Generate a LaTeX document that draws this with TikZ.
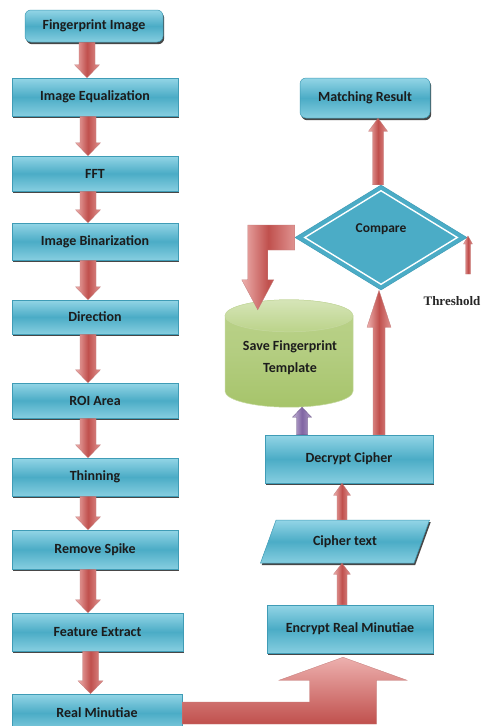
\documentclass[tikz,border=0pt]{standalone}
\usepackage{fontspec}
\setmainfont{Carlito}
\newfontfamily\serifthr{Liberation Serif}
\usetikzlibrary{shapes.geometric,shadows,calc}
\definecolor{boxtop}{HTML}{93D5E6}
\definecolor{boxmid}{HTML}{4BACC6}
\definecolor{boxbot}{HTML}{86CEE0}
\definecolor{boxline}{HTML}{3F9CB6}
\definecolor{txtc}{HTML}{1C1C1C}
\definecolor{redc}{HTML}{C0504D}
\definecolor{redl}{HTML}{EDB0AE}
\definecolor{redd}{HTML}{A8423F}
\definecolor{purc}{HTML}{8064A2}
\definecolor{purl}{HTML}{C3B4D6}
\definecolor{grnt}{HTML}{D6E5B8}
\definecolor{grnb}{HTML}{A6C46A}
\definecolor{grnm}{HTML}{BBD38A}
\definecolor{grnl}{HTML}{C6D9A0}
\tikzset{
  procbox/.style={draw=boxline, line width=0.5pt, top color=boxtop, bottom color=boxbot, middle color=boxmid,
    drop shadow={shadow xshift=1.2pt, shadow yshift=-2.2pt, fill=black!80, opacity=0.9},
    font=\fontsize{14}{16}\selectfont\bfseries, text=txtc, inner sep=0pt},
  lbltext/.style={font=\fontsize{14}{22}\selectfont\bfseries, text=txtc, inner sep=0pt, align=center},
  redarrow/.style={left color=redl, right color=redl!70!redc, middle color=redc, draw=redd!70, line width=0.3pt},
  purarrow/.style={left color=purl, right color=purl!70!purc, middle color=purc, draw=purc!80!black, line width=0.3pt},
  bigarrow/.style={top color=redl, bottom color=redc, draw=redd!70, line width=0.3pt},
}
% block arrows: [style]{start}{end}{half shaft}{half head}{head length}
\newcommand{\arrdn}[6][redarrow]{\shade[#1] let \p1=#2, \p2=#3 in
  ({\x1-#4},\y1) -- ({\x1+#4},\y1) -- ({\x1+#4},{\y2+#6}) -- ({\x1+#5},{\y2+#6}) -- (\x1,\y2)
  -- ({\x1-#5},{\y2+#6}) -- ({\x1-#4},{\y2+#6}) -- cycle;}
\newcommand{\arrup}[6][redarrow]{\shade[#1] let \p1=#2, \p2=#3 in
  ({\x1-#4},\y1) -- ({\x1+#4},\y1) -- ({\x1+#4},{\y2-#6}) -- ({\x1+#5},{\y2-#6}) -- (\x1,\y2)
  -- ({\x1-#5},{\y2-#6}) -- ({\x1-#4},{\y2-#6}) -- cycle;}
\begin{document}
\begin{tikzpicture}[x=1pt,y=-1pt]
\fill[white] (0,0) rectangle (482,726);
\useasboundingbox (0,0) rectangle (482,726);

% left column
\node[procbox, rounded corners=6pt, minimum width=138pt, minimum height=32pt] (fi) at (94,26) {Fingerprint Image};
\node[procbox, minimum width=166pt, minimum height=38pt] (eq) at (95,97) {Image Equalization};
\node[procbox, minimum width=166pt, minimum height=35pt] (fft) at (95,173.5) {FFT};
\node[procbox, minimum width=166pt, minimum height=37pt] (bin) at (95,241.5) {Image Binarization};
\node[procbox, minimum width=166pt, minimum height=34pt] (dir) at (95,317) {Direction};
\node[procbox, minimum width=166pt, minimum height=35pt] (roi) at (95,400.5) {ROI Area};
\node[procbox, minimum width=166pt, minimum height=38pt] (thin) at (95,477) {Thinning};
\node[procbox, minimum width=166pt, minimum height=39pt] (spike) at (95,549.5) {Remove Spike};
\node[procbox, minimum width=171pt, minimum height=38pt] (feat) at (97.5,632) {Feature Extract};
\node[procbox, minimum width=170pt, minimum height=38pt] (rm) at (97,713) {Real Minutiae};

% right column
\node[procbox, rounded corners=6pt, minimum width=130pt, minimum height=40pt] (mr) at (365,98) {Matching Result};
\node[diamond, aspect=1.64, minimum width=172pt, minimum height=105pt, inner sep=0pt,
  fill=boxmid, draw=boxline, line width=0.5pt, font=\fontsize{13.5}{15}\selectfont\bfseries, text=txtc]
  (cmp) at (381,237.5) {\raisebox{5pt}[0pt][0pt]{Compare}};
\draw[white, line width=1.4pt] ($(cmp.north)!6pt!(cmp.south)$) -- ($(cmp.east)!10pt!(cmp.west)$)
  -- ($(cmp.south)!6pt!(cmp.north)$) -- ($(cmp.west)!10pt!(cmp.east)$) -- cycle;

% cylinder (database)
\node[minimum width=128pt, minimum height=107pt, inner sep=0pt] (cyl) at (289,353.5) {};
\shade[top color=grnm, bottom color=grnb, middle color=grnb!85!white, draw=grnl, line width=0.5pt]
  let \p1=(cyl.north), \p2=(cyl.south) in
  ({\x1-64pt},{\y1-16pt}) -- ({\x1-64pt},{\y2+16pt}) arc[start angle=180, end angle=360, x radius=64pt, y radius=16pt]
  -- ({\x1+64pt},{\y1-16pt}) arc[start angle=0, end angle=180, x radius=64pt, y radius=16pt] -- cycle;
\shade[top color=grnt, bottom color=grnm, draw=grnl, line width=0.5pt] let \p1=(cyl.north) in
  (\x1,{\y1-16pt}) ellipse[x radius=64pt, y radius=16pt];
\node[lbltext] (cyltext) at (290,358) {Save Fingerprint\\Template};

\node[procbox, minimum width=168pt, minimum height=48pt] (dec) at (349,459) {Decrypt Cipher};
\node[procbox, trapezium, trapezium left angle=59, trapezium right angle=121, trapezium stretches,
  minimum width=170pt, minimum height=43pt] (ct) at (345,541.5) {Cipher text};
\node[procbox, minimum width=166pt, minimum height=48pt] (enc) at (350,629) {Encrypt Real Minutiae};

\node[font=\serifthr\bfseries\fontsize{13}{15}\selectfont, text=black!85, inner sep=0pt] (thr) at (452,301) {Threshold};
\coordinate (thr0) at (468,274);
\coordinate (thr1) at (468,236);

% left arrows
\arrdn{($(fi.south)+(-7,0)$)}{(eq.north)}{8pt}{12.5pt}{13pt}
\arrdn{($(eq.south)+(-7,0)$)}{(fft.north)}{8pt}{12.5pt}{13pt}
\arrdn{($(fft.south)+(-7,0)$)}{(bin.north)}{8pt}{12.5pt}{13pt}
\arrdn{($(bin.south)+(-7,0)$)}{(dir.north)}{8pt}{12.5pt}{13pt}
\arrdn{($(dir.south)+(-7,0)$)}{(roi.north)}{8pt}{12.5pt}{13pt}
\arrdn{($(roi.south)+(-7,0)$)}{(thin.north)}{8pt}{12.5pt}{13pt}
\arrdn{($(thin.south)+(-7,0)$)}{(spike.north)}{8pt}{12.5pt}{13pt}
\arrdn{($(spike.south)+(-7,0)$)}{(feat.north)}{8pt}{12.5pt}{13pt}
\arrdn{($(feat.south)+(-7,0)$)}{(rm.north)}{8pt}{12.5pt}{13pt}

% right arrows
\arrup{($(enc.north)+(-8,0)$)}{(ct.south)}{5pt}{8.5pt}{11pt}
\arrup{($(ct.north)+(-3,0)$)}{(dec.south)}{5pt}{8.5pt}{12pt}
\arrup[purarrow]{($(dec.north)+(-47,0)$)}{(cyl.south)}{5.5pt}{9.5pt}{10pt}
\arrup{($(dec.north)+(30,0)$)}{(cmp.south)}{6pt}{12pt}{37pt}
\arrup{($(cmp.north)+(-3,0)$)}{(mr.south)}{5.5pt}{9.5pt}{13pt}
\arrup{(thr0)}{(thr1)}{2.5pt}{4.5pt}{8pt}

% L arrow from compare to template
\shade[redarrow] let \p1=(cmp.west), \p2=(cyl.north) in
  (\x1,{\y1+12.5pt}) -- ({\x1-47pt},{\y1+12.5pt}) -- ({\x1-47pt},{\y2+20pt}) -- ({\x1-53pt},{\y2+20pt})
  -- ({\x1-37pt},{\y2-10pt}) -- ({\x1-21pt},{\y2+20pt}) -- ({\x1-27pt},{\y2+20pt})
  -- ({\x1-27pt},{\y1-12.5pt}) -- (\x1,{\y1-12.5pt}) -- cycle;

% big arrow from Real Minutiae to Encrypt
\shade[bigarrow] let \p1=(rm.east), \p2=(enc.south) in
  (\x1,{\y1+11pt}) -- ({\x2-7pt-33.5pt},{\y1+11pt}) -- ({\x2-7pt-33.5pt},{\y2-27pt})
  -- ({\x2-7pt-64pt},{\y2-27pt}) -- ({\x2-7pt},{\y2-4pt}) -- ({\x2-7pt+64pt},{\y2-27pt})
  -- ({\x2-7pt+33.5pt},{\y2-27pt}) -- ({\x2-7pt+33.5pt},{\y1-11pt}) -- (\x1,{\y1-11pt}) -- cycle;
\end{tikzpicture}
\end{document}
